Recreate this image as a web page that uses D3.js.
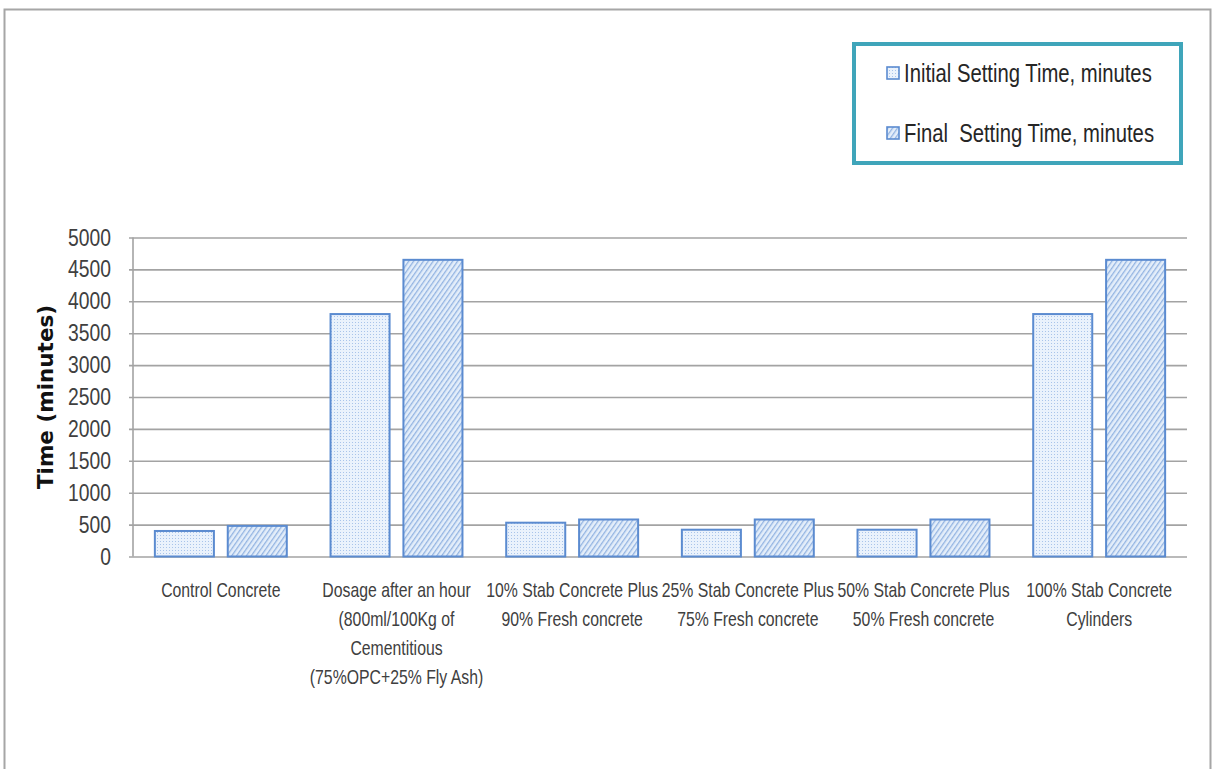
<!DOCTYPE html>
<html>
<head>
<meta charset="utf-8">
<script src="https://cdn.jsdelivr.net/npm/d3@7"></script>
<style>
  html, body { margin: 0; padding: 0; background: #fff; }
  svg { display: block; }
</style>
</head>
<body>
<svg id="chart" width="1212" height="769"></svg>
<script>
// ---- data ----
const categories = [
  ["Control Concrete"],
  ["Dosage after an hour", "(800ml/100Kg of", "Cementitious", "(75%OPC+25% Fly Ash)"],
  ["10% Stab Concrete Plus", "90% Fresh concrete"],
  ["25% Stab Concrete Plus", "75% Fresh concrete"],
  ["50% Stab Concrete Plus", "50% Fresh concrete"],
  ["100% Stab Concrete", "Cylinders"]
];
const seriesNames = ["Initial Setting Time, minutes", "Final  Setting Time, minutes"];
const initialValues = [400, 3800, 530, 420, 420, 3800];
const finalValues = [480, 4650, 580, 580, 580, 4650];
const yTicks = [0, 500, 1000, 1500, 2000, 2500, 3000, 3500, 4000, 4500, 5000];
const yTitle = "Time (minutes)";

// ---- layout ----
const W = 1212, H = 769;
const plot = { left: 133, right: 1187, top: 237.5, bottom: 556.5 };
const svg = d3.select("#chart");
const labelFont = "'Liberation Sans', Arial, sans-serif";

// condensed text helper (narrow sans look)
function ctext(g, x, yy, str, size, sx, anchor, fill) {
  return g.append("text")
    .attr("transform", `translate(${x},${yy}) scale(${sx},1)`)
    .attr("text-anchor", anchor)
    .attr("font-family", labelFont).attr("font-size", size).attr("fill", fill)
    .style("white-space", "pre")
    .text(str);
}

// patterns
const defs = svg.append("defs");
const pd = defs.append("pattern").attr("id", "dots").attr("patternUnits", "userSpaceOnUse")
  .attr("width", 3).attr("height", 3);
pd.append("rect").attr("width", 3).attr("height", 3).attr("fill", "#eaf2fc");
pd.append("rect").attr("x", 1).attr("y", 1).attr("width", 1).attr("height", 1).attr("fill", "#a9c4ea");
const ph = defs.append("pattern").attr("id", "hatch").attr("patternUnits", "userSpaceOnUse")
  .attr("width", 4).attr("height", 4).attr("patternTransform", "rotate(35)");
ph.append("rect").attr("width", 4).attr("height", 4).attr("fill", "#e4eefa");
ph.append("rect").attr("x", 0).attr("y", 0).attr("width", 1.3).attr("height", 4).attr("fill", "#93b4e2");

// outer frame
svg.append("rect").attr("x", 0).attr("y", 0).attr("width", W).attr("height", H).attr("fill", "#fff");
svg.append("path").attr("d", `M4.5,${H + 5} V9.5 H1210.5 V${H + 5}`)
  .attr("fill", "none").attr("stroke", "#a6a6a6").attr("stroke-width", 2);

// scales
const y = d3.scaleLinear().domain([0, 5000]).range([plot.bottom, plot.top]);
const x0 = d3.scaleBand().domain(d3.range(categories.length))
  .range([plot.left, plot.right]).paddingInner(0.249).paddingOuter(0.1245);
const x1 = d3.scaleBand().domain([0, 1]).range([0, x0.bandwidth()]).paddingInner(0.19);

// gridlines
const yAxis = d3.axisLeft(y).tickValues(yTicks).tickSize(-(plot.right - plot.left)).tickFormat("");
const gGrid = svg.append("g").attr("transform", `translate(${plot.left},0)`).call(yAxis);
gGrid.select(".domain").remove();
gGrid.selectAll(".tick line").attr("stroke", "#a3a3a3").attr("stroke-width", 1.6)
  .attr("x1", -4);
svg.append("line").attr("x1", plot.left).attr("x2", plot.left)
  .attr("y1", plot.top).attr("y2", plot.bottom)
  .attr("stroke", "#a3a3a3").attr("stroke-width", 1.6);

// tick labels
const gTick = svg.append("g");
yTicks.forEach(d => {
  ctext(gTick, 111, y(d) + 8, String(d), 23, 0.84, "end", "#404040");
});

// y title
svg.append("text").attr("transform", `translate(53,${(plot.top + plot.bottom) / 2}) rotate(-90)`)
  .attr("text-anchor", "middle")
  .attr("font-family", "'DejaVu Sans', Verdana, sans-serif").attr("font-weight", "bold")
  .attr("font-size", 21.5).attr("fill", "#111").text(yTitle);

// bars
const rows = categories.map((c, i) => ({ i, vals: [initialValues[i], finalValues[i]] }));
const gBars = svg.append("g");
rows.forEach(r => {
  r.vals.forEach((v, s) => {
    gBars.append("rect")
      .attr("x", x0(r.i) + x1(s))
      .attr("y", y(v))
      .attr("width", x1.bandwidth())
      .attr("height", y(0) - y(v))
      .attr("fill", s === 0 ? "url(#dots)" : "url(#hatch)")
      .attr("stroke", "#5b8bd0").attr("stroke-width", 2);
  });
});

// category labels
const gCat = svg.append("g");
categories.forEach((lines, i) => {
  const cx = x0(i) + x0.bandwidth() / 2;
  lines.forEach((ln, k) => {
    ctext(gCat, cx, 597 + k * 29, ln, 20, 0.79, "middle", "#404040");
  });
});

// legend
const lg = svg.append("g");
lg.append("rect").attr("x", 854).attr("y", 44).attr("width", 327).attr("height", 119)
  .attr("fill", "#fff").attr("stroke", "#3fa5ba").attr("stroke-width", 4);
seriesNames.forEach((name, s) => {
  const yy = [67, 127][s];
  lg.append("rect").attr("x", 887).attr("y", yy).attr("width", 12).attr("height", 12)
    .attr("fill", s === 0 ? "url(#dots)" : "url(#hatch)")
    .attr("stroke", "#5b8bd0").attr("stroke-width", 1.6);
  ctext(lg, 904, yy + 15, name, 26, 0.78, "start", "#262626");
});
</script>
</body>
</html>
